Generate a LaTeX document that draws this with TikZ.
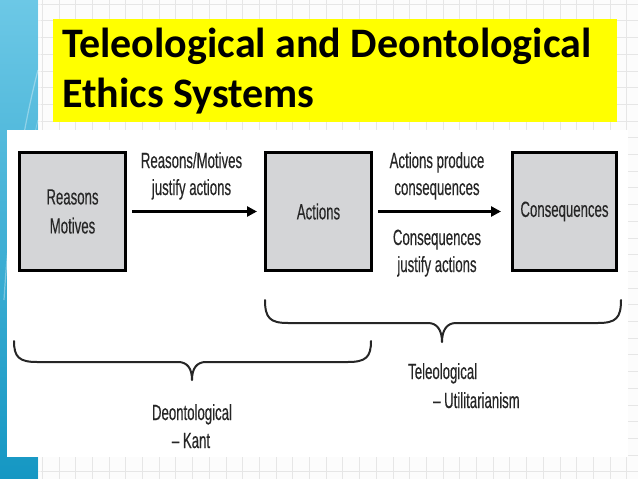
\documentclass[tikz,border=0pt]{standalone}
\usepackage{fontspec}
\setmainfont{Carlito}
\newfontfamily\cond[FakeStretch=0.6,FakeBold=0.3]{Liberation Sans}
\usetikzlibrary{arrows.meta}
\definecolor{gridbg}{HTML}{FCFCFC}
\definecolor{gridln}{HTML}{E6E6E6}
\definecolor{blueA}{HTML}{6CC8E6}
\definecolor{blueB}{HTML}{1597C3}
\definecolor{boxgray}{HTML}{D4D5D7}
\definecolor{txt}{HTML}{262626}
\definecolor{titleyellow}{HTML}{FFFF00}
\tikzset{
  gridline/.style={gridln, line width=0.6pt},
  boxnode/.style={draw=black, line width=3pt, fill=boxgray, minimum height=118pt,
    inner sep=0pt, font=\cond\fontsize{22}{30}\selectfont, text=txt, align=center},
  lbl/.style={font=\cond\fontsize{22}{27}\selectfont, text=txt, inner sep=0pt},
  titletext/.style={font=\bfseries\fontsize{42}{50}\selectfont, inner sep=0pt, anchor=base west},
  arrowline/.style={line width=3pt, -{Triangle[length=10pt,width=10pt]}},
  bracestyle/.style={line width=2pt, black!85, line cap=round, line join=round}
}
\begin{document}
\begin{tikzpicture}[x=1pt,y=-1pt]
\useasboundingbox (0,0) rectangle (638,479);
% background paper with grid
\fill[gridbg] (0,0) rectangle (638,479);
\foreach \i in {0,...,38} \draw[gridline] ({8.7+16.7*\i},0) -- ++(0,479);
\foreach \j in {0,...,29} \draw[gridline] (0,{4+16.7*\j}) -- ++(638,0);
% left blue strip
\shade[top color=blueA, bottom color=blueB] (0,0) rectangle (38,479);
\fill[white, opacity=0.5] (38,0) rectangle (41,479);
\draw[white, opacity=0.35, line width=1.2pt] (4,300) .. controls (10,200) and (25,120) .. (38,70);
\draw[white, opacity=0.25, line width=1pt] (12,330) .. controls (16,240) and (28,160) .. (38,120);
% white panel
\fill[white] (7,130) rectangle (628,457);
% title
\fill[titleyellow] (53,19) rectangle (617,122);
\node[titletext] (t1) at (62,57) {Teleological and Deontological};
\node[titletext] (t2) at (62,107) {Ethics Systems};
% boxes
\node[boxnode, minimum width=106pt] (rm) at (72.5,211.5) {Reasons\\[-1pt]Motives};
\node[boxnode, minimum width=106pt] (act) at (318.5,211.5) {Actions};
\node[boxnode, minimum width=104pt] (cons) at (564.5,211.5) {Consequences};
% arrows
\draw[arrowline, shorten <=5pt, shorten >=7pt] (rm) -- (act);
\draw[arrowline, shorten <=5pt, shorten >=10pt] (act) -- (cons);
% arrow labels
\node[lbl, anchor=base] (a1) at (191.5,168) {Reasons/Motives};
\node[lbl, anchor=base] (a2) at (191.5,195) {justify actions};
\node[lbl, anchor=base] (b1) at (437,168) {Actions produce};
\node[lbl, anchor=base] (b2) at (437,195) {consequences};
\node[lbl, anchor=base] (c1) at (437,245) {Consequences};
\node[lbl, anchor=base] (c2) at (437,272) {justify actions};
% top brace (teleological)
\coordinate (tl) at (265,300);
\coordinate (tr) at (621,300);
\coordinate (tt) at (442,342);
\draw[bracestyle] (tl) .. controls (265,318) and (270,323) .. (288,323) -- (428,323)
  .. controls (437,323) and (442,330) .. (tt)
  .. controls (442,330) and (447,323) .. (456,323) -- (598,323)
  .. controls (616,323) and (621,318) .. (tr);
% bottom brace (deontological)
\coordinate (dl) at (14,341);
\coordinate (dr) at (371,341);
\coordinate (dt) at (192,380);
\draw[bracestyle] (dl) .. controls (14,357) and (19,362) .. (37,362) -- (178,362)
  .. controls (187,362) and (192,368) .. (dt)
  .. controls (192,368) and (197,362) .. (206,362) -- (348,362)
  .. controls (366,362) and (371,357) .. (dr);
% brace labels
\node[lbl, anchor=base] (d1) at (192,420) {Deontological};
\node[lbl, anchor=base] (d2) at (191,448) {– Kant};
\node[lbl, anchor=base west] (e1) at (408,379) {Teleological};
\node[lbl, anchor=base west] (e2) at (433,408) {– Utilitarianism};
\end{tikzpicture}
\end{document}
